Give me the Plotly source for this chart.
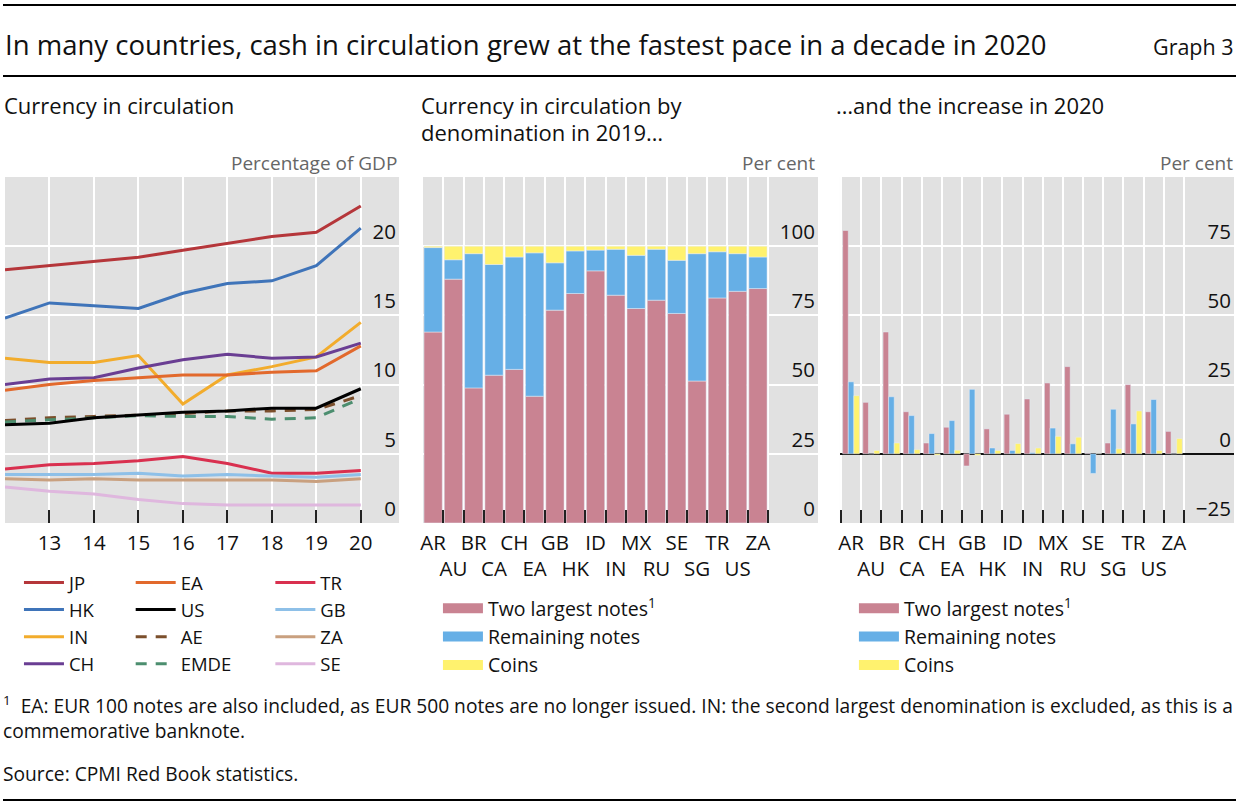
import plotly.graph_objects as go

W, H = 1236, 803

# ---- left panel: currency in circulation, % of GDP ----
years = [2012, 2013, 2014, 2015, 2016, 2017, 2018, 2019, 2020]
jp = [18.3, 18.6, 18.9, 19.2, 19.7, 20.2, 20.7, 21.0, 22.9]
hk = [14.8, 15.9, 15.7, 15.5, 16.6, 17.3, 17.5, 18.6, 21.3]
ind = [11.9, 11.6, 11.6, 12.1, 8.6, 10.7, 11.3, 12.0, 14.5]
ch = [10.0, 10.4, 10.5, 11.2, 11.8, 12.2, 11.9, 12.0, 13.0]
ea = [9.6, 10.0, 10.3, 10.5, 10.7, 10.7, 10.9, 11.0, 12.8]
us = [7.1, 7.2, 7.6, 7.8, 8.0, 8.1, 8.3, 8.3, 9.7]
ae = [7.4, 7.6, 7.7, 7.8, 7.9, 8.1, 8.1, 8.2, 9.2]
emde = [7.3, 7.45, 7.6, 7.75, 7.7, 7.7, 7.5, 7.6, 9.0]
tr = [3.9, 4.2, 4.3, 4.5, 4.8, 4.3, 3.6, 3.6, 3.8]
gb = [3.5, 3.5, 3.5, 3.6, 3.4, 3.5, 3.4, 3.3, 3.5]
za = [3.2, 3.1, 3.2, 3.1, 3.1, 3.1, 3.1, 3.0, 3.2]
se = [2.6, 2.3, 2.1, 1.7, 1.4, 1.3, 1.3, 1.3, 1.3]

# ---- middle/right panels ----
countries = ["AR", "AU", "BR", "CA", "CH", "EA", "GB", "HK", "ID",
             "IN", "MX", "RU", "SE", "SG", "TR", "US", "ZA"]
share_two_largest = [69.0, 88.1, 48.8, 53.4, 55.5, 45.8, 76.9, 82.9, 91.1,
                     82.3, 77.5, 80.5, 75.7, 51.3, 81.3, 83.7, 84.7]
share_remaining = [30.5, 7.0, 48.5, 40.0, 40.6, 51.8, 17.1, 15.4, 7.5,
                   16.6, 19.2, 18.4, 19.2, 46.0, 16.7, 13.6, 11.4]
share_coins = [0.5, 4.9, 2.7, 6.6, 3.9, 2.4, 6.0, 1.7, 1.4,
               1.1, 3.3, 1.1, 5.1, 2.7, 2.0, 2.7, 3.9]
inc_two_largest = [80.7, 18.6, 44.0, 15.2, 3.9, 9.6, -4.4, 9.0, 14.3,
                   19.8, 25.6, 31.5, 0.2, 3.9, 25.0, 15.2, 8.1]
inc_remaining = [26.0, 0.0, 20.6, 13.8, 7.3, 12.0, 23.3, 2.1, 1.2,
                 0.4, 9.3, 3.6, -7.1, 16.1, 10.8, 19.6, 0.0]
inc_coins = [21.0, 1.2, 3.9, 1.5, -0.5, 1.3, -0.6, 1.2, 3.7,
             2.1, 6.3, 6.0, 0.1, 1.8, 15.5, 1.2, 5.5]

country_ticks = [c if i % 2 == 0 else "<br>" + c for i, c in enumerate(countries)]

PINK = "#c98392"
BLUE = "#66afe6"
YELLOW = "#fff26e"
BG = "#e1e1e1"
FONT = "Open Sans"


def px(x):
    return x / W


def py(y):
    return 1 - y / H


fig = go.Figure()

lines = [
    ("JP", jp, "#b5363a", "solid", "legend"),
    ("HK", hk, "#3f74b9", "solid", "legend"),
    ("IN", ind, "#f2ac2c", "solid", "legend"),
    ("CH", ch, "#6a3e93", "solid", "legend"),
    ("EA", ea, "#e2692c", "solid", "legend2"),
    ("AE", ae, "#7b4f2c", "11px,9px", "legend2"),
    ("EMDE", emde, "#4c8e6f", "11px,9px", "legend2"),
    ("US", us, "#000000", "solid", "legend2"),
    ("TR", tr, "#d9304f", "solid", "legend3"),
    ("GB", gb, "#8ec0e8", "solid", "legend3"),
    ("ZA", za, "#c9a07f", "solid", "legend3"),
    ("SE", se, "#dfb7de", "solid", "legend3"),
]
rank = {"JP": 1, "HK": 2, "IN": 3, "CH": 4, "EA": 1, "US": 2, "AE": 3,
        "EMDE": 4, "TR": 1, "GB": 2, "ZA": 3, "SE": 4}
for name, vals, col, dash, leg in lines:
    fig.add_trace(go.Scatter(x=years, y=vals, name=name, mode="lines",
                             line=dict(color=col, width=3, dash=dash),
                             legend=leg, legendrank=rank[name],
                             xaxis="x", yaxis="y"))

# middle: stacked shares via base
base_blue = share_two_largest
base_yellow = [a + b for a, b in zip(share_two_largest, share_remaining)]
fig.add_trace(go.Bar(x=countries, y=share_two_largest, marker_color=PINK,
                     width=0.9, offsetgroup="m", showlegend=False,
                     xaxis="x2", yaxis="y2"))
fig.add_trace(go.Bar(x=countries, y=share_remaining, base=base_blue,
                     marker_color=BLUE, width=0.9, offsetgroup="m",
                     showlegend=False, xaxis="x2", yaxis="y2"))
fig.add_trace(go.Bar(x=countries, y=share_coins, base=base_yellow,
                     marker_color=YELLOW, width=0.9, offsetgroup="m",
                     showlegend=False, xaxis="x2", yaxis="y2"))

# right: grouped increases
for vals, col, g in [(inc_two_largest, PINK, "a"), (inc_remaining, BLUE, "b"),
                     (inc_coins, YELLOW, "c")]:
    fig.add_trace(go.Bar(x=countries, y=vals, marker_color=col,
                         offsetgroup=g, showlegend=False,
                         xaxis="x3", yaxis="y3"))

# legend entries for the bar panels
sup = "<sup>1</sup>"
for leg, ax in [("legend4", "2"), ("legend5", "3")]:
    for name, col in [("Two largest notes" + sup, PINK),
                      ("Remaining notes", BLUE), ("Coins", YELLOW)]:
        fig.add_trace(go.Scatter(x=[None], y=[None], mode="lines", name=name,
                                 line=dict(color=col, width=14), legend=leg,
                                 xaxis="x" + ax, yaxis="y" + ax))

TICKFONT = dict(size=20.5, color="#111")
axis_common = dict(showline=False, zeroline=False, gridcolor="white",
                   gridwidth=1.5, tickfont=TICKFONT)
xtick_common = dict(ticks="inside", ticklen=13, tickwidth=1.5,
                    tickcolor="#222", tickangle=0, ticklabelstandoff=5)

fig.update_layout(
    width=W, height=H,
    margin=dict(l=0, r=0, t=0, b=0),
    paper_bgcolor="white", plot_bgcolor=BG,
    font=dict(family=FONT, color="#111"),
    barmode="group", bargap=0.17, bargroupgap=0,
    xaxis=dict(domain=[px(2), px(397)], range=[2012, 2020.86],
               tickvals=years, ticktext=[""] + [str(y)[2:] for y in years[1:]],
               anchor="y", **xtick_common, **axis_common),
    yaxis=dict(domain=[py(523), py(177)], range=[0, 25],
               tickvals=[0, 5, 10, 15, 20], side="right",
               ticklabelposition="inside top", anchor="x", **axis_common),
    xaxis2=dict(domain=[px(421), px(817)], type="category",
                range=[-0.5, 18.96], tickson="boundaries",
                tickvals=countries, ticktext=country_ticks,
                anchor="y2", **xtick_common, **axis_common),
    yaxis2=dict(domain=[py(523), py(177)], range=[0, 125],
                tickvals=[0, 25, 50, 75, 100], side="right",
                ticklabelposition="inside top", anchor="x2", **axis_common),
    xaxis3=dict(domain=[px(839), px(1234)], type="category",
                range=[-0.55, 18.98], tickson="boundaries",
                tickvals=countries, ticktext=country_ticks,
                anchor="y3", **xtick_common, **axis_common),
    yaxis3=dict(domain=[py(523), py(177)], range=[-25, 100],
                tickvals=[-25, 0, 25, 50, 75], side="right",
                ticklabelposition="inside top", anchor="x3",
                showline=False, gridcolor="white", gridwidth=1.5,
                zeroline=True, zerolinecolor="#111", zerolinewidth=1.5,
                tickfont=TICKFONT),
)

leg_common = dict(xanchor="left", yanchor="top", bgcolor="rgba(0,0,0,0)",
                  tracegroupgap=0, itemclick=False, itemwidth=40)
LEGFONT = dict(size=18.5, color="#111")
BARLEGFONT = dict(size=19.5, color="#111")
fig.update_layout(
    legend=dict(x=px(16), y=py(564), font=LEGFONT, **leg_common),
    legend2=dict(x=px(128), y=py(564), font=LEGFONT, **leg_common),
    legend3=dict(x=px(268), y=py(564), font=LEGFONT, **leg_common),
    legend4=dict(x=px(436), y=py(589), font=BARLEGFONT, **leg_common),
    legend5=dict(x=px(853), y=py(589), font=BARLEGFONT, **leg_common),
)

# header / footer rules
for yy in [5, 76, 800]:
    fig.add_shape(type="line", xref="paper", yref="paper", x0=0, x1=1,
                  y0=py(yy), y1=py(yy), line=dict(color="black", width=2))


def note(text, x, y, size, anchor="left", color="#111"):
    fig.add_annotation(text=text, x=px(x), y=py(y), xref="paper", yref="paper",
                       xanchor=anchor, yanchor="middle", showarrow=False,
                       align=anchor, font=dict(size=size, color=color))


note("In many countries, cash in circulation grew at the fastest pace in a decade in 2020",
     0, 44, 27.5)
note("Graph 3", 1236, 46, 21.5, "right")
note("Currency in circulation", -1, 105, 22)
note("Currency in circulation by", 417, 105, 22)
note("denomination in 2019…", 417, 132, 22)
note("…and the increase in 2020", 833, 105, 22)
note("Percentage of GDP", 397, 163, 19, "right", "#666")
note("Per cent", 816, 163, 19, "right", "#666")
note("Per cent", 1235, 163, 19, "right", "#666")
note("<sup>1</sup>  EA: EUR 100 notes are also included, as EUR 500 notes are no longer issued. "
     "IN: the second largest denomination is excluded, as this is a", -2, 705, 19.2)
note("commemorative banknote.", -2, 730, 19.2)
note("Source: CPMI Red Book statistics.", -2, 773, 19.2)

fig.write_html("out.html", config={"displayModeBar": False},
               post_script="document.body.style.margin='0';")
